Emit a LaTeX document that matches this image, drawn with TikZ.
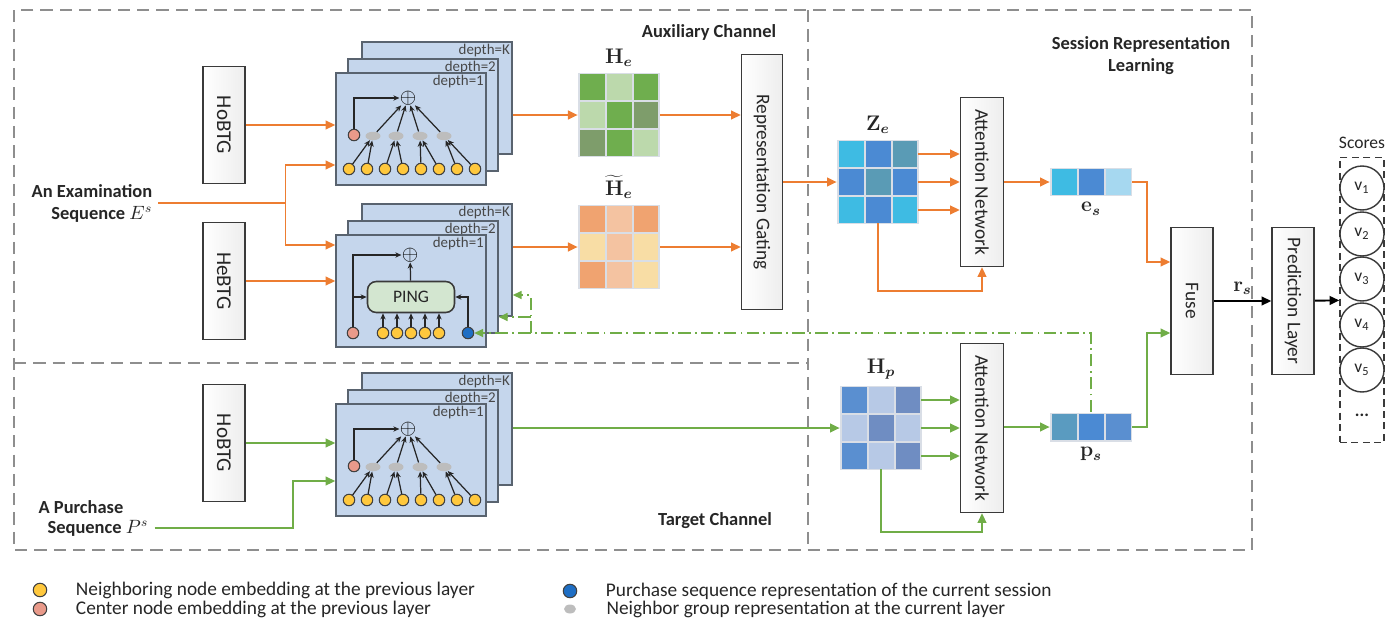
\documentclass[tikz,border=0pt]{standalone}
\usepackage[no-math]{fontspec}
\setmainfont{Carlito}
\usepackage{bm}
\usetikzlibrary{arrows.meta, positioning, matrix, shapes.geometric, calc}

\definecolor{orangeln}{HTML}{ED7D31}
\definecolor{greenln}{HTML}{70AD47}
\definecolor{framegray}{HTML}{8E8E8E}
\definecolor{boxline}{HTML}{3A3A3A}
\definecolor{txtdark}{HTML}{262626}
\definecolor{layerfill}{HTML}{C5D6EC}
\definecolor{layerline}{HTML}{59636F}
\definecolor{neighfill}{HTML}{FFC83D}
\definecolor{centerfill}{HTML}{E99A8A}
\definecolor{purchfill}{HTML}{1E6EC4}
\definecolor{groupfill}{HTML}{BDBDBD}
\definecolor{pingfill}{HTML}{D3E6D0}
\definecolor{gapgray}{HTML}{D9DEE6}
% cell colours
\definecolor{grnM}{HTML}{6FAE4E}
\definecolor{grnL}{HTML}{BCD9AC}
\definecolor{grnD}{HTML}{7E9D6B}
\definecolor{orgM}{HTML}{F0A370}
\definecolor{orgP}{HTML}{F4C3A1}
\definecolor{orgY}{HTML}{F8DDA5}
\definecolor{bluC}{HTML}{3EBBE3}
\definecolor{bluM}{HTML}{4B8AD3}
\definecolor{bluT}{HTML}{5A9BB5}
\definecolor{bluL}{HTML}{B7C9E6}
\definecolor{bluS}{HTML}{6F8DC2}
\definecolor{bluP}{HTML}{5A8FD0}
\definecolor{bluA}{HTML}{A6D8F0}
\definecolor{bluV}{HTML}{5A9BC0}

\tikzstyle{framedash} = [
    draw=framegray,
    line width=0.9pt,
    dash pattern=on 7pt off 4pt
]
\tikzstyle{blockbox} = [
    rectangle,
    draw=boxline,
    line width=0.9pt,
    left color=white,
    right color=black!7,
    inner sep=0pt,
    text=txtdark,
    font=\fontsize{11}{13}\selectfont
]
\tikzstyle{chantitle} = [
    text=txtdark,
    font=\bfseries\fontsize{10.5}{12.5}\selectfont
]
\tikzstyle{layerbox} = [
    rectangle,
    draw=layerline,
    fill=layerfill,
    line width=0.9pt,
    minimum width=3cm,
    minimum height=2.24cm,
    inner sep=0pt
]
\tikzstyle{depthtxt} = [
    anchor=north east,
    inner sep=1.5pt,
    text=txtdark!85,
    font=\fontsize{8.5}{10}\selectfont
]
\tikzstyle{neighnode} = [
    circle,
    fill=neighfill,
    draw=black!75,
    line width=0.6pt,
    minimum size=0.23cm,
    inner sep=0pt
]
\tikzstyle{centernode} = [
    neighnode,
    fill=centerfill
]
\tikzstyle{purchnode} = [
    neighnode,
    fill=purchfill
]
\tikzstyle{groupnode} = [
    ellipse,
    fill=groupfill,
    minimum width=0.3cm,
    minimum height=0.17cm,
    inner sep=0pt
]
\tikzstyle{plusnode} = [
    inner sep=0pt,
    font=\large
]
\tikzstyle{pingbox} = [
    rectangle,
    rounded corners=5pt,
    draw=boxline,
    fill=pingfill,
    line width=0.9pt,
    minimum width=1.74cm,
    minimum height=0.62cm,
    text=txtdark,
    font=\fontsize{10}{12}\selectfont
]
\tikzstyle{innerarrow} = [
    draw=black!85,
    line width=0.7pt,
    -{Stealth[length=3.5pt,width=3pt]}
]
\tikzstyle{orangearrow} = [
    draw=orangeln,
    line width=1.1pt,
    -{Triangle[length=5.5pt,width=5pt]}
]
\tikzstyle{greenarrow} = [
    draw=greenln,
    line width=1.1pt,
    -{Triangle[length=5.5pt,width=5pt]}
]
\tikzstyle{feedback} = [
    draw=greenln,
    line width=1pt,
    dash pattern=on 7pt off 2.5pt on 1pt off 2.5pt,
    -{Triangle[length=5pt,width=4.5pt]}
]
\tikzstyle{blackarrow} = [
    draw=black,
    line width=1.1pt,
    -{Triangle[length=5.5pt,width=5pt]}
]
\tikzstyle{cell} = [
    rectangle,
    minimum width=0.5cm,
    minimum height=0.52cm,
    inner sep=0pt
]
\tikzstyle{heatmap} = [
    matrix of nodes,
    nodes in empty cells,
    nodes={cell},
    column sep=0.04cm,
    row sep=0.04cm,
    inner sep=0.03cm,
    fill=gapgray
]
\tikzstyle{mathlbl} = [
    text=txtdark,
    inner sep=1pt,
    font=\large
]
\tikzstyle{scorenode} = [
    circle,
    draw=boxline,
    fill=white,
    line width=0.8pt,
    minimum size=0.88cm,
    inner sep=0pt,
    text=txtdark,
    font=\fontsize{10}{12}\selectfont
]
\tikzstyle{legendtxt} = [
    anchor=west,
    text=txtdark,
    font=\fontsize{11}{12.5}\selectfont
]

% three stacked layers, the front one is named #1
\newcommand{\gnnlayers}[1]{%
    \node[layerbox] (#1k) at (26,-31) {};
    \node[depthtxt] (#1klbl) at (#1k.north east) {depth=K};
    \node[layerbox] (#12) at (12,-14) {};
    \node[depthtxt] (#12lbl) at (#12.north east) {depth=2};
    \node[layerbox] (#1) at (0,0) {};
    \node[depthtxt] (#11lbl) at (#1.north east) {depth=1};
}
% neighbour aggregation drawn on the front layer
\newcommand{\neighbagg}[1]{%
    \node[plusnode] (#1plus) at (-3,-31) {$\oplus$};
    \node[centernode] (#1c) at (-57,6) {};
    \foreach \gx [count=\g] in {-38,-15,9,33}
        \node[groupnode] (#1g\g) at (\gx,7) {};
    \foreach \nx [count=\n] in {-62,-44,-26,-8,10,28,46,64}
        \node[neighnode] (#1n\n) at (\nx,40) {};
    \foreach \n in {1,...,8} {
        \pgfmathtruncatemacro{\g}{(\n+1)/2}
        \draw[innerarrow] (#1n\n) -- (#1g\g);
    }
    \foreach \g in {1,...,4}
        \draw[innerarrow] (#1g\g) -- (#1plus);
    \draw[innerarrow] (#1c) |- (#1plus);
}

\begin{document}
\begin{tikzpicture}[x=0.02cm, y=-0.02cm]
\useasboundingbox (0,0) rectangle (1390,622);

% channel frames
\draw[framedash] (14,10) rectangle (1252,550);
\draw[framedash] (808,10) -- (808,550);
\draw[framedash] (14,363) -- (808,363);
\node[chantitle] (auxtitle) at (709,32) {Auxiliary Channel};
\node[chantitle] (tgttitle) at (715,521) {Target Channel};
\node[chantitle, align=center] (srltitle) at (1141,56) {Session Representation\\Learning};

% inputs
\node[chantitle, align=right] (examseq) at (92,203) {An Examination\\Sequence $E^s$};
\node[chantitle] (purseqtop) at (81,507) {A Purchase};
\node[chantitle] (purseq) at (98,528) {Sequence $P^s$};

\node[blockbox, font=\fontsize{12}{14}\selectfont, minimum width=0.84cm, minimum height=2.34cm] (hobtgA) at (224,125) {\rotatebox{-90}{HoBTG}};
\node[blockbox, font=\fontsize{12}{14}\selectfont, minimum width=0.84cm, minimum height=2.34cm] (hebtg) at (224,281) {\rotatebox{-90}{HeBTG}};
\node[blockbox, font=\fontsize{12}{14}\selectfont, minimum width=0.84cm, minimum height=2.34cm] (hobtgB) at (224,443) {\rotatebox{-90}{HoBTG}};

% graph encoders
\begin{scope}[shift={(411,129)}]
    \gnnlayers{gnnA}
    \neighbagg{gnnA}
\end{scope}

\begin{scope}[shift={(411,291)}]
    \gnnlayers{gnnB}
    \node[plusnode] (gnnBplus) at (-1,-36) {$\oplus$};
    \node[pingbox] (ping) at (0,6) {PING};
    \node[centernode] (gnnBc) at (-58,42) {};
    \node[purchnode] (gnnBp) at (57,42) {};
    \foreach \nx [count=\n] in {-28,-14,0,14,28} {
        \node[neighnode] (gnnBn\n) at (\nx,42) {};
        \draw[innerarrow] (gnnBn\n) -- (gnnBn\n |- ping.south);
    }
    \draw[innerarrow] (gnnBc) |- (gnnBplus);
    \draw[innerarrow] (gnnBc |- ping.west) -- (ping.west);
    \draw[innerarrow] (gnnBp) |- (ping.east);
    \draw[innerarrow] (ping) -- (gnnBplus);
\end{scope}

\begin{scope}[shift={(411,460)}]
    \gnnlayers{gnnC}
    \neighbagg{gnnC}
\end{scope}

% node representations
\matrix (He) [heatmap] at (619,115) {
    |[fill=grnM]| & |[fill=grnL]| & |[fill=grnM]| \\
    |[fill=grnL]| & |[fill=grnM]| & |[fill=grnD]| \\
    |[fill=grnD]| & |[fill=grnM]| & |[fill=grnL]| \\
};
\node[mathlbl, above=2pt of He] (Helbl) {$\mathbf{H}_{\bm{e}}$};
\matrix (Het) [heatmap] at (619,247) {
    |[fill=orgM]| & |[fill=orgP]| & |[fill=orgM]| \\
    |[fill=orgY]| & |[fill=orgP]| & |[fill=orgY]| \\
    |[fill=orgM]| & |[fill=orgP]| & |[fill=orgY]| \\
};
\node[mathlbl, above=2pt of Het] (Hetlbl) {$\widetilde{\mathbf{H}}_{\bm{e}}$};
\matrix (Ze) [heatmap] at (878,182) {
    |[fill=bluC]| & |[fill=bluM]| & |[fill=bluT]| \\
    |[fill=bluM]| & |[fill=bluT]| & |[fill=bluM]| \\
    |[fill=bluC]| & |[fill=bluM]| & |[fill=bluC]| \\
};
\node[mathlbl, above=2pt of Ze] (Zelbl) {$\mathbf{Z}_{\bm{e}}$};
\matrix (Hp) [heatmap] at (881,428) {
    |[fill=bluP]| & |[fill=bluL]| & |[fill=bluS]| \\
    |[fill=bluL]| & |[fill=bluS]| & |[fill=bluL]| \\
    |[fill=bluP]| & |[fill=bluL]| & |[fill=bluS]| \\
};
\node[mathlbl, above=2pt of Hp] (Hplbl) {$\mathbf{H}_{\bm{p}}$};

% session vectors
\matrix (es) [heatmap] at (1091,182) {
    |[fill=bluC]| & |[fill=bluM]| & |[fill=bluA]| \\
};
\node[mathlbl, below=2pt of es] (eslbl) {$\mathbf{e}_{\bm{s}}$};
\matrix (ps) [heatmap] at (1091,427) {
    |[fill=bluV]| & |[fill=bluM]| & |[fill=bluP]| \\
};
\node[mathlbl, below=2pt of ps] (pslbl) {$\mathbf{p}_{\bm{s}}$};

% blocks
\node[blockbox, minimum width=0.82cm, minimum height=5.1cm] (repgate) at (762,182) {\rotatebox{-90}{Representation Gating}};
\node[blockbox, minimum width=0.86cm, minimum height=3.38cm] (attA) at (982,182) {\rotatebox{-90}{Attention Network}};
\node[blockbox, minimum width=0.86cm, minimum height=3.38cm] (attB) at (982,428) {\rotatebox{-90}{Attention Network}};
\node[blockbox, minimum width=0.84cm, minimum height=2.94cm] (fuse) at (1192,301) {\rotatebox{-90}{Fuse}};
\node[blockbox, minimum width=0.84cm, minimum height=2.94cm] (pred) at (1293,301) {\rotatebox{-90}{Prediction Layer}};

% scores
\node[draw=boxline, line width=0.9pt, dash pattern=on 4pt off 2.5pt, minimum width=0.88cm, minimum height=5.7cm] (scores) at (1362,300) {};
\node[text=txtdark, font=\fontsize{10}{12}\selectfont, above=1pt of scores] (scorelbl) {Scores};
\foreach \i/\yy in {1/188,2/234,3/279,4/325,5/370}
    \node[scorenode] (v\i) at (1362,\yy) {v\textsubscript{\i}};
\node[text=txtdark, font=\bfseries\fontsize{10}{12}\selectfont] (vdots) at (1362,415) {...};

% auxiliary channel connectors
\draw[orangearrow] (hobtgA) -- (hobtgA -| gnnA.west);
\draw[orangearrow] (examseq.east) -- ++(127,0) coordinate (exsplit) |- ($(gnnA.west)+(0,36)$);
\draw[orangearrow] (exsplit) |- ($(gnnB.west)+(0,-46)$);
\draw[orangearrow] (hebtg) -- (hebtg -| gnnB.west);
\draw[orangearrow] (gnnAk.east |- He.west) -- (He.west);
\draw[orangearrow] (gnnBk.east |- Het.west) -- (Het.west);
\draw[orangearrow] (He.east) -- (He.east -| repgate.west);
\draw[orangearrow] (Het.east) -- (Het.east -| repgate.west);
\draw[orangearrow] (repgate.east |- Ze.west) -- (Ze.west);
\foreach \r in {1,2,3}
    \draw[orangearrow] (Ze-\r-3.east) -- (Ze-\r-3.east -| attA.west);
\draw[orangearrow] (Ze-3-2.south) -- ++(0,68) -| (attA.south);
\draw[orangearrow] (attA.east |- es.west) -- (es.west);
\draw[orangearrow] (es.east) -- ++(15,0) |- ($(fuse.west)+(0,-39)$);

% target channel connectors
\draw[greenarrow] (hobtgB) -- (hobtgB -| gnnC.west);
\draw[greenarrow] (purseq.east) -- ++(138,0) |- ($(gnnC.west)+(0,21)$);
\draw[greenarrow] (gnnCk.east |- Hp.west) -- (Hp.west);
\foreach \r in {1,2,3}
    \draw[greenarrow] (Hp-\r-3.east) -- (Hp-\r-3.east -| attB.west);
\draw[greenarrow] (Hp-3-2.south) -- ++(0,63) -| (attB.south);
\draw[greenarrow] (attB.east |- ps.west) -- (ps.west);
\draw[greenarrow] (ps.east) -- ++(15,0) |- ($(fuse.west)+(0,32)$);

% purchase feedback into PING
\draw[feedback] (ps.north) |- (gnnBp.east);
\coordinate (fbsplit) at ($(gnnBk.east |- gnnBp.east)+(18,0)$);
\coordinate (fbmid) at ($(gnnB2.east)+(0,40)$);
\draw[feedback] (fbsplit) |- ($(gnnBk.east)+(0,35)$);
\draw[feedback] (fbsplit |- fbmid) -- (fbmid);

% prediction
\draw[blackarrow] (fuse) -- node[mathlbl, above=2pt] (rslbl) {$\mathbf{r}_{\bm{s}}$} (pred);
\draw[blackarrow] (pred) -- (scores);

% legend
\node[neighnode, minimum size=0.27cm] (lgA) at (40,590) {};
\node[legendtxt, right=0.45cm of lgA] (lgAtxt) {Neighboring node embedding at the previous layer};
\node[centernode, minimum size=0.27cm] (lgB) at (40,609) {};
\node[legendtxt, right=0.45cm of lgB] (lgBtxt) {Center node embedding at the previous layer};
\node[purchnode, minimum size=0.27cm] (lgC) at (570,591) {};
\node[legendtxt, right=0.45cm of lgC] (lgCtxt) {Purchase sequence representation of the current session};
\node[groupnode, minimum width=0.24cm, minimum height=0.18cm] (lgD) at (570,609) {};
\node[legendtxt, right=0.48cm of lgD] (lgDtxt) {Neighbor group representation at the current layer};
\end{tikzpicture}
\end{document}
